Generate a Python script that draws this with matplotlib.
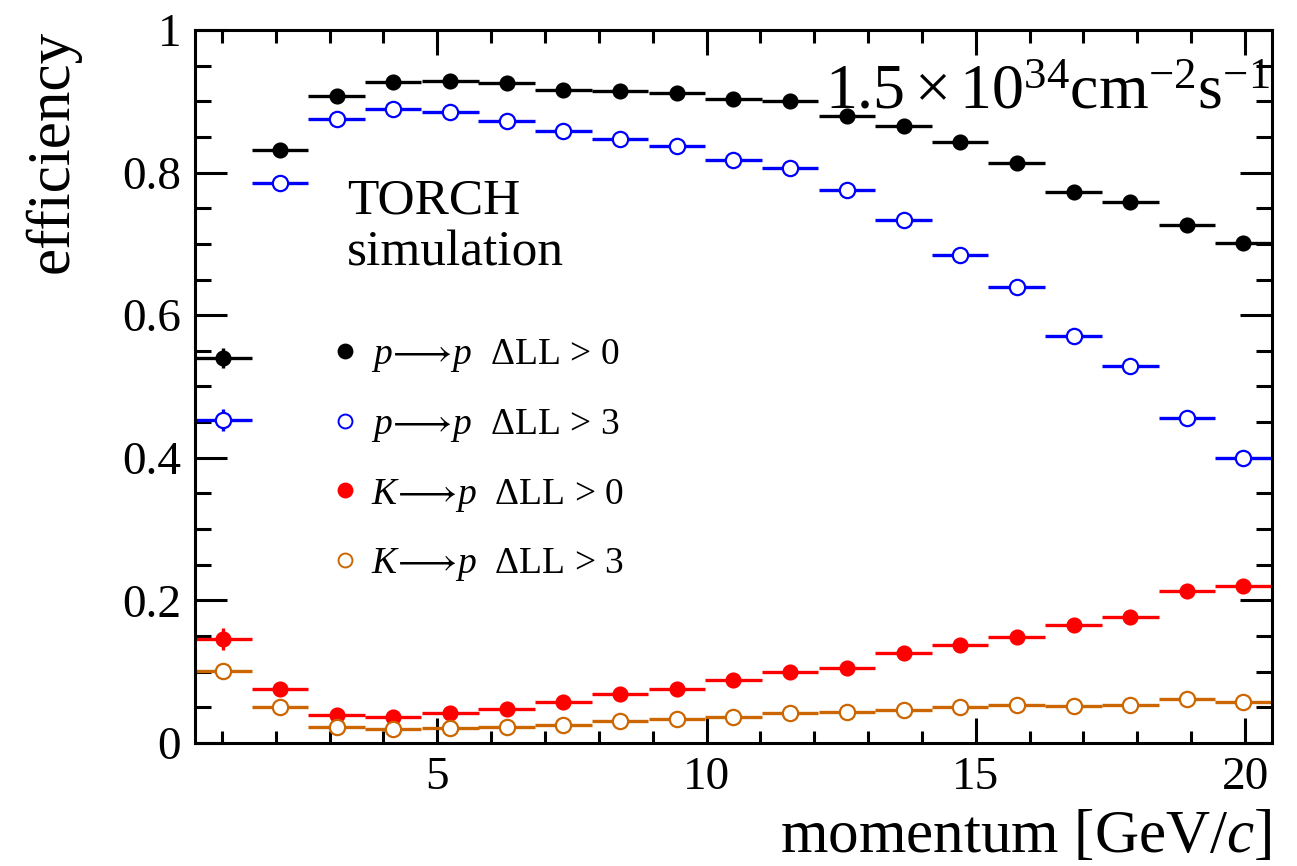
import numpy as np
import matplotlib
matplotlib.use('Agg')
import matplotlib.pyplot as plt
from matplotlib.lines import Line2D
from matplotlib.ticker import MultipleLocator

plt.rcParams['font.family'] = 'Liberation Serif'
plt.rcParams['mathtext.fontset'] = 'custom'
plt.rcParams['mathtext.rm'] = 'Liberation Serif'
plt.rcParams['mathtext.it'] = 'Liberation Serif:italic'

# momentum bins (GeV/c), centres and half width
momentum = [1.03, 2.08, 3.13, 4.18, 5.24, 6.29, 7.34, 8.39, 9.45, 10.50,
            11.55, 12.61, 13.66, 14.71, 15.76, 16.82, 17.87, 18.92, 19.97]
half_width = 0.526

# efficiencies
p_p_ll0 = [0.540, 0.831, 0.908, 0.927, 0.928, 0.926, 0.916, 0.914, 0.911, 0.903,
           0.900, 0.880, 0.866, 0.843, 0.813, 0.773, 0.759, 0.726, 0.701]
p_p_ll3 = [0.453, 0.785, 0.875, 0.889, 0.885, 0.873, 0.859, 0.847, 0.837, 0.818,
           0.806, 0.776, 0.733, 0.685, 0.640, 0.571, 0.529, 0.456, 0.400]
k_p_ll0 = [0.146, 0.076, 0.039, 0.036, 0.042, 0.048, 0.057, 0.069, 0.076, 0.088,
           0.099, 0.105, 0.126, 0.138, 0.149, 0.166, 0.177, 0.213, 0.220]
k_p_ll3 = [0.101, 0.051, 0.022, 0.019, 0.021, 0.023, 0.025, 0.031, 0.033, 0.037,
           0.042, 0.043, 0.046, 0.050, 0.054, 0.052, 0.054, 0.062, 0.057]

# statistical errors (only the first bin is visibly larger than the marker)
err_p_ll0 = [0.014] + [0.004] * 18
err_p_ll3 = [0.016] + [0.004] * 18
err_k_ll0 = [0.015] + [0.004] * 18
err_k_ll3 = [0.008] + [0.003] * 18

labels = [r'$p\!\longrightarrow\!p$  ΔLL > 0',
          r'$p\!\longrightarrow\!p$  ΔLL > 3',
          r'$K\!\longrightarrow\!p$  ΔLL > 0',
          r'$K\!\longrightarrow\!p$  ΔLL > 3']
colors = ['black', '#0000ff', '#ff0000', '#cc6600']
filled = [True, False, True, False]

fig = plt.figure(figsize=(12.97, 8.66), dpi=100)
ax = fig.add_axes([0.1503, 0.142, 0.8304, 0.8234])

series = [(p_p_ll0, err_p_ll0), (p_p_ll3, err_p_ll3), (k_p_ll0, err_k_ll0), (k_p_ll3, err_k_ll3)]
handles = []
for (vals, errs), col, fill, lab in zip(series, colors, filled, labels):
    face = col if fill else 'white'
    ms = 10 if fill else 11
    ax.errorbar(momentum, vals, xerr=half_width, yerr=errs, fmt='o', color=col,
                mfc=face, mec=col, mew=1.6, ms=ms, elinewidth=2.4, capsize=0)
    handles.append(Line2D([], [], ls='none', marker='o', color=col, mfc=face,
                          mec=col, mew=1.4, ms=10))

ax.set_xlim(0.5, 20.5)
ax.set_ylim(0, 1)
ax.xaxis.set_major_locator(MultipleLocator(5))
ax.xaxis.set_minor_locator(MultipleLocator(1))
ax.yaxis.set_major_locator(MultipleLocator(0.2))
ax.yaxis.set_minor_locator(MultipleLocator(0.05))
ax.set_xticks([5, 10, 15, 20])
ax.set_yticks([0, 0.2, 0.4, 0.6, 0.8, 1])
ax.set_yticklabels(['0', '0.2', '0.4', '0.6', '0.8', '1'])

for s in ax.spines.values():
    s.set_linewidth(2.2)
ax.tick_params(which='both', direction='in', top=True, right=True, width=2.2,
               labelsize=34, pad=10)
ax.tick_params(axis='x', which='major', length=18)
ax.tick_params(axis='x', which='minor', length=9)
ax.tick_params(axis='y', which='major', length=23)
ax.tick_params(axis='y', which='minor', length=11.5)

ax.set_xlabel(r'momentum [GeV/$c$]', fontsize=44, loc='right', labelpad=7)
ax.set_ylabel('efficiency', fontsize=44, loc='top', labelpad=30)

ax.text(0.585, 0.89, r'$1.5\times10^{34}\mathrm{cm}^{-2}\mathrm{s}^{-1}$',
        transform=ax.transAxes, fontsize=46, va='baseline', ha='left')
ax.text(0.141, 0.743, 'TORCH', transform=ax.transAxes, fontsize=37,
        va='baseline', ha='left')
ax.text(0.141, 0.669, 'simulation', transform=ax.transAxes, fontsize=37,
        va='baseline', ha='left')

ax.legend(handles, labels, loc='upper left', bbox_to_anchor=(0.115, 0.59),
          frameon=False, fontsize=27, handlelength=0.6, handletextpad=0.4,
          labelspacing=0.87, borderaxespad=0)

fig.savefig('out.png', dpi=100)
